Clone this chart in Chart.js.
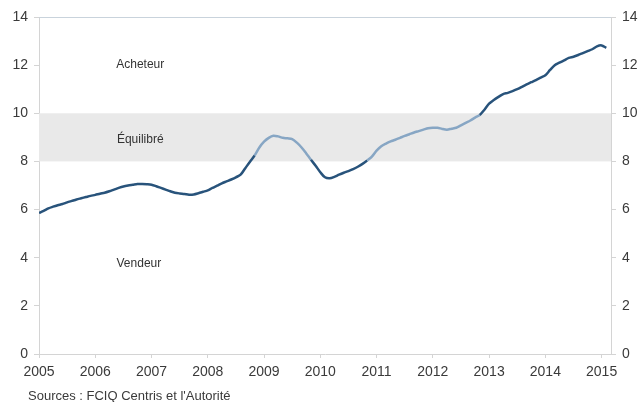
<!DOCTYPE html>
<html>
<head>
<meta charset="utf-8">
<script src="https://cdn.jsdelivr.net/npm/chart.js@4.4.1/dist/chart.umd.min.js"></script>
<style>
  html, body { margin: 0; padding: 0; background: #fff; }
  #wrap { position: relative; width: 641px; height: 402px; }
  #source {
    position: absolute; left: 28px; top: 388px;
    font: 13px "Liberation Sans", Arial, sans-serif; color: #3a3a3a;
  }
</style>
</head>
<body>
<div id="wrap">
  <canvas id="ratioChart" width="641" height="402"></canvas>
  <div id="source">Sources : FCIQ Centris et l'Autorité</div>
</div>
<script>
// ---------------- data ----------------
const startYear = 2005;
const yearLabels = ["2005", "2006", "2007", "2008", "2009", "2010", "2011", "2012", "2013", "2014", "2015"];
const yTicks = [0, 2, 4, 6, 8, 10, 12, 14];

// monthly values, Jan 2005 -> Feb 2015
const ratio = [
  5.86, 5.95, 6.05, 6.12, 6.18, 6.23, 6.30, 6.36, 6.42, 6.47, 6.52, 6.57,
  6.61, 6.66, 6.70, 6.76, 6.83, 6.90, 6.96, 7.00, 7.03, 7.06, 7.06, 7.05,
  7.03, 6.97, 6.90, 6.83, 6.76, 6.70, 6.67, 6.65, 6.62, 6.63, 6.68, 6.74,
  6.80, 6.90, 6.99, 7.09, 7.17, 7.25, 7.34, 7.45, 7.72, 7.99, 8.25, 8.58,
  8.82, 8.98, 9.07, 9.04, 8.98, 8.96, 8.93, 8.78, 8.58, 8.33, 8.07, 7.82,
  7.55, 7.34, 7.30, 7.36, 7.45, 7.53, 7.60, 7.68, 7.78, 7.90, 8.04, 8.20,
  8.45, 8.63, 8.74, 8.83, 8.90, 8.98, 9.06, 9.13, 9.20, 9.26, 9.32, 9.38,
  9.40, 9.40, 9.35, 9.32, 9.36, 9.40, 9.50, 9.60, 9.70, 9.82, 9.93, 10.15,
  10.40, 10.55, 10.68, 10.80, 10.85, 10.92, 11.00, 11.10, 11.20, 11.29, 11.38, 11.48,
  11.58, 11.80, 12.00, 12.10, 12.20, 12.30, 12.35, 12.42, 12.50, 12.58, 12.66, 12.78,
  12.82, 12.72
];

// balanced market band
const bandLow = 8;
const bandHigh = 10;

// zone labels: text, month index, value
const zoneText = ["Acheteur", "Équilibré", "Vendeur"];
const zoneMonth = [21.6, 21.6, 21.3];
const zoneValue = [12, 8.9, 3.75];

const darkBlue = "#28537b";
const lightBlue = "#87a6c4";
const axisGrey = "#d4d4d4";

// ---------------- plugins ----------------
const bandPlugin = {
  id: "band",
  beforeDatasetsDraw(chart) {
    const { ctx, chartArea, scales } = chart;
    const top = scales.y.getPixelForValue(bandHigh);
    const bottom = scales.y.getPixelForValue(bandLow);
    ctx.save();
    ctx.fillStyle = "#e9e9e9";
    ctx.fillRect(chartArea.left, top, chartArea.right - chartArea.left, bottom - top);
    // top border line
    ctx.strokeStyle = "#c9d3dc";
    ctx.lineWidth = 1;
    ctx.beginPath();
    ctx.moveTo(chartArea.left, chartArea.top + 0.5);
    ctx.lineTo(chartArea.right, chartArea.top + 0.5);
    ctx.stroke();
    // zone labels
    ctx.fillStyle = "#333";
    ctx.font = "12px 'Liberation Sans', Arial, sans-serif";
    ctx.textAlign = "center";
    ctx.textBaseline = "middle";
    zoneText.forEach((t, i) => {
      ctx.fillText(t, scales.x.getPixelForValue(zoneMonth[i]), scales.y.getPixelForValue(zoneValue[i]));
    });
    ctx.restore();
  },
};

const inBand = (v) => v >= bandLow && v <= bandHigh;

// ---------------- chart ----------------
const ctx = document.getElementById("ratioChart").getContext("2d");

const tickFont = { family: "'Liberation Sans', Arial, sans-serif", size: 14 };

const ratioChart = new Chart(ctx, {
  type: "line",
  data: {
    datasets: [
      {
        data: ratio.map((v, i) => ({ x: i, y: v })),
        borderColor: darkBlue,
        borderWidth: 2.5,
        pointRadius: 0,
        tension: 0.3,
        segment: {
          borderColor: (c) =>
            inBand(c.p0.parsed.y) && inBand(c.p1.parsed.y) ? lightBlue : darkBlue,
        },
      },
    ],
  },
  options: {
    responsive: false,
    animation: false,
    layout: { padding: { top: 17, bottom: 14, left: 0, right: 0 } },
    plugins: {
      legend: { display: false },
      tooltip: { enabled: false },
    },
    scales: {
      x: {
        type: "linear",
        min: 0,
        max: 122,
        afterFit: (s) => { s.height = 34; },
        afterBuildTicks: (s) => {
          s.ticks = yearLabels.map((_, i) => ({ value: i * 12 }));
        },
        ticks: {
          autoSkip: false,
          maxRotation: 0,
          padding: 6,
          color: "#3a3a3a",
          font: tickFont,
          callback: (v) => String(startYear + Math.round(v / 12)),
        },
        grid: { drawOnChartArea: false, drawTicks: true, tickLength: 4, color: axisGrey },
        border: { color: axisGrey },
      },
      y: {
        position: "left",
        min: 0,
        max: 14,
        afterFit: (s) => { s.width = 39; },
        afterBuildTicks: (s) => { s.ticks = yTicks.map((v) => ({ value: v })); },
        ticks: { padding: 6, color: "#3a3a3a", font: tickFont },
        grid: { drawOnChartArea: false, drawTicks: true, tickLength: 5, color: axisGrey },
        border: { color: axisGrey },
      },
      y2: {
        position: "right",
        min: 0,
        max: 14,
        afterFit: (s) => { s.width = 30; },
        afterBuildTicks: (s) => { s.ticks = yTicks.map((v) => ({ value: v })); },
        ticks: { padding: 6, color: "#3a3a3a", font: tickFont },
        grid: { drawOnChartArea: false, drawTicks: true, tickLength: 5, color: axisGrey },
        border: { color: axisGrey },
      },
    },
  },
  plugins: [bandPlugin],
});
</script>
</body>
</html>
